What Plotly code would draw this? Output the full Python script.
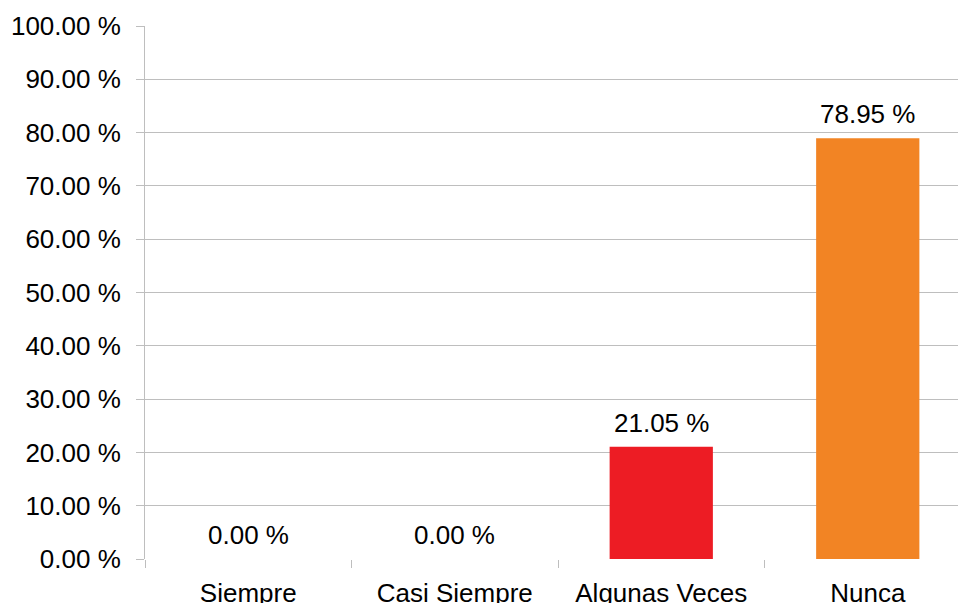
import plotly.graph_objects as go

categories = ["Siempre", "Casi Siempre", "Algunas Veces", "Nunca"]
values = [0.0, 0.0, 21.05, 78.95]
colors = ["#4F81BD", "#4F81BD", "#ED1C24", "#F28424"]
y_ticks = [0, 10, 20, 30, 40, 50, 60, 70, 80, 90, 100]
y_tick_labels = [f"{v:.2f} %" for v in y_ticks]

font = dict(family="Liberation Sans, Arial, sans-serif", size=26, color="#000000")

fig = go.Figure()
fig.add_trace(go.Bar(
    x=categories, y=values, marker=dict(color=colors, line=dict(width=0)),
    width=0.5, hoverinfo="skip",
))
for c, v in zip(categories, values):
    fig.add_annotation(x=c, y=v, text=f"{v:.2f} %", showarrow=False,
                       yanchor="bottom", yshift=7, font=font)

fig.update_layout(
    width=958, height=603,
    margin=dict(l=145, r=0, t=26, b=44, autoexpand=False),
    paper_bgcolor="white", plot_bgcolor="white",
    showlegend=False, bargap=0.5,
    font=font,
)
fig.update_xaxes(
    type="category", range=[-0.5, 3.437], automargin=False,
    showgrid=False, showline=False, zeroline=False,
    ticks="outside", tickson="boundaries", ticklen=8, tickcolor="#BEBEBE",
    tickfont=font, ticklabelstandoff=16,
)
fig.update_yaxes(
    range=[0, 100], tickvals=y_ticks, ticktext=y_tick_labels, automargin=False,
    showgrid=True, gridcolor="#BEBEBE", gridwidth=1,
    showline=True, linecolor="#BEBEBE", linewidth=1,
    zeroline=False,
    ticks="outside", ticklen=8, tickcolor="#BEBEBE",
    tickfont=font, ticklabelstandoff=10,
)
fig.write_html("out.html")
